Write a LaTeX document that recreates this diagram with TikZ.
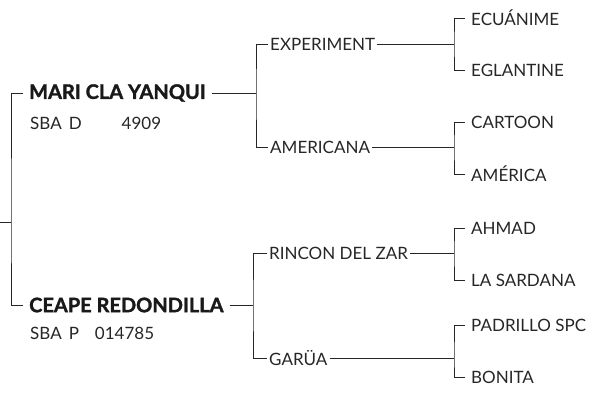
\documentclass[tikz,border=0pt]{standalone}
\usepackage{fontspec}
\setmainfont{Lato}
\newfontfamily\heavyfont{Lato}[BoldFeatures={FakeBold=1.6}]
\definecolor{ink}{HTML}{262626}
\begin{document}
\begin{tikzpicture}[x=1pt,y=-1pt,
  nm/.style={anchor=west,inner xsep=2pt,inner ysep=1pt,text=ink,font=\fontsize{17}{19}\selectfont},
  leaf/.style={nm,inner xsep=6pt},
  bnm/.style={nm,inner xsep=6pt,text=black!90,font=\fontsize{20}{22}\selectfont\heavyfont\bfseries},
  idl/.style={nm,inner xsep=0pt},
  ln/.style={draw=ink,line width=0.9pt}]
\useasboundingbox (0,0) rectangle (592,394);
% generation 1
\node[bnm] (mari) at (23,93) {MARI CLA YANQUI};
\node[idl] (mariid) at (30,123) {SBA\hspace{7pt}D\hspace{40pt}4909};
\node[bnm] (ceape) at (23,305) {CEAPE REDONDILLA};
\node[idl] (ceapeid) at (30,333) {SBA\hspace{7pt}P\hspace{16pt}014785};
% generation 2
\node[nm] (exp) at (268,44) {EXPERIMENT};
\node[nm] (ame) at (268,147) {AMERICANA};
\node[nm] (rin) at (267,253) {RINCON DEL ZAR\hspace{3pt}};
\node[nm] (gar) at (267,358) {GARÜA\hspace{5pt}};
% generation 3
\node[leaf] (ecu) at (465,18) {ECUÁNIME};
\node[leaf] (egl) at (465,70) {EGLANTINE};
\node[leaf] (car) at (465,122) {CARTOON};
\node[leaf] (amer) at (465,174) {AMÉRICA};
\node[leaf] (ahm) at (465,228) {AHMAD};
\node[leaf] (lsa) at (465,280) {LA SARDANA};
\node[leaf] (pad) at (465,325) {PADRILLO SPC};
\node[leaf] (bon) at (465,377) {BONITA};
% junctions
\coordinate (root) at (0,222);
\coordinate (j0) at (11,222);
\coordinate (j1) at (256,93);
\coordinate (j2) at (253,305);
\coordinate (j11) at (454,44);
\coordinate (j12) at (454,147);
\coordinate (j21) at (454,253);
\coordinate (j22) at (454,358);
% connectors
\draw[ln] (root) -- (j0);
\draw[ln] (mari.west) -| (j0) |- (ceape.west);
\draw[ln] (mari.east) -- (j1);
\draw[ln] (exp.west) -| (j1) |- (ame.west);
\draw[ln] (ceape.east) -- (j2);
\draw[ln] (rin.west) -| (j2) |- (gar.west);
\draw[ln] (exp.east) -- (j11);
\draw[ln] (ecu.west) -| (j11) |- (egl.west);
\draw[ln] (ame.east) -- (j12);
\draw[ln] (car.west) -| (j12) |- (amer.west);
\draw[ln] (rin.east) -- (j21);
\draw[ln] (ahm.west) -| (j21) |- (lsa.west);
\draw[ln] (gar.east) -- (j22);
\draw[ln] (pad.west) -| (j22) |- (bon.west);
\end{tikzpicture}
\end{document}
